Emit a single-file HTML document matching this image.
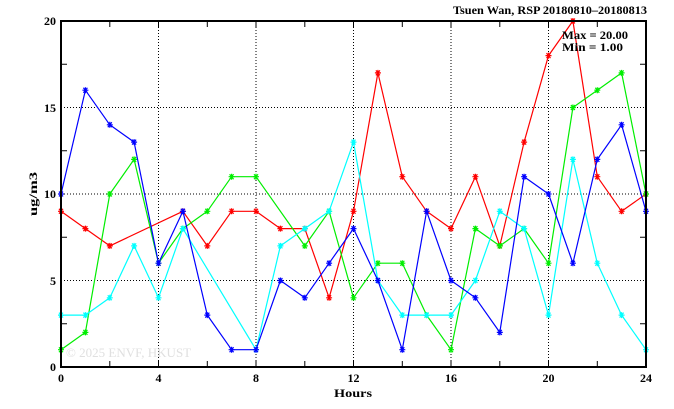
<!DOCTYPE html>
<html><head><meta charset="utf-8"><style>
html,body{margin:0;padding:0;background:#fff;}
svg{display:block;}
text{font-family:"Liberation Serif",serif;font-size:12px;fill:#000;font-weight:bold;}
</style></head><body>
<svg width="674" height="409" viewBox="0 0 674 409" xmlns="http://www.w3.org/2000/svg">
<defs>
<marker id="mr" markerUnits="userSpaceOnUse" markerWidth="10" markerHeight="10" refX="5" refY="5" overflow="visible"><g stroke="#f00" stroke-width="1.2"><path d="M2,5H8M3,2.5L7,7.5M3,7.5L7,2.5M5,2V8"/></g></marker>
<marker id="mb" markerUnits="userSpaceOnUse" markerWidth="10" markerHeight="10" refX="5" refY="5" overflow="visible"><g stroke="#00f" stroke-width="1.2"><path d="M2,5H8M3,2.5L7,7.5M3,7.5L7,2.5M5,2V8"/></g></marker>
<marker id="mg" markerUnits="userSpaceOnUse" markerWidth="10" markerHeight="10" refX="5" refY="5" overflow="visible"><g stroke="#0e0" stroke-width="1.2"><path d="M2,5H8M3,2.5L7,7.5M3,7.5L7,2.5M5,2V8"/></g></marker>
<marker id="mc" markerUnits="userSpaceOnUse" markerWidth="10" markerHeight="10" refX="5" refY="5" overflow="visible"><g stroke="#0ff" stroke-width="1.2"><path d="M2,5H8M3,2.5L7,7.5M3,7.5L7,2.5M5,2V8"/></g></marker>
</defs>
<g stroke="#000" stroke-width="1" stroke-dasharray="1,2">
<path d="M158.5,21V367M256,21V367M353.5,21V367M451,21V367M548.5,21V367"/>
<path d="M61,280.5H646M61,194H646M61,107.5H646"/>
</g>
<text x="66" y="357" style="fill:#e0e0e0;font-weight:normal;font-size:13px">© 2025  ENVF, HKUST</text>
<g stroke="#000" stroke-width="1">
<path d="M61,323.75h6M61,237.25h6M61,150.75h6M61,64.25h6M646,323.75h-6M646,237.25h-6M646,150.75h-6M646,64.25h-6"/>
<path d="M109.8,367v-6M207.3,367v-6M304.8,367v-6M402.3,367v-6M499.8,367v-6M597.3,367v-6M109.8,21v6M207.3,21v6M304.8,21v6M402.3,21v6M499.8,21v6M597.3,21v6"/>
<path d="M158.5,367v-6M256,367v-6M353.5,367v-6M451,367v-6M548.5,367v-6M158.5,21v6M256,21v6M353.5,21v6M451,21v6M548.5,21v6"/>
</g>
<g fill="none" stroke-width="1.2" stroke-linejoin="round">
<polyline stroke="#f00" marker-start="url(#mr)" marker-mid="url(#mr)" marker-end="url(#mr)" points="61,211.3 85.4,228.6 109.8,245.9 182.9,211.3 207.3,245.9 231.6,211.3 256,211.3 280.4,228.6 304.8,228.6 329.1,297.8 353.5,211.3 377.9,72.9 402.3,176.7 426.6,211.3 451,228.6 475.4,176.7 499.8,245.9 524.1,142.1 548.5,55.6 572.9,21 597.3,176.7 621.6,211.3 646,194"/>
<polyline stroke="#0e0" marker-start="url(#mg)" marker-mid="url(#mg)" marker-end="url(#mg)" points="61,349.7 85.4,332.4 109.8,194 134.1,159.4 158.5,263.2 182.9,228.6 207.3,211.3 231.6,176.7 256,176.7 304.8,245.9 329.1,211.3 353.5,297.8 377.9,263.2 402.3,263.2 426.6,315.1 451,349.7 475.4,228.6 499.8,245.9 524.1,228.6 548.5,263.2 572.9,107.5 597.3,90.2 621.6,72.9 646,194"/>
<polyline stroke="#0ff" marker-start="url(#mc)" marker-mid="url(#mc)" marker-end="url(#mc)" points="61,315.1 85.4,315.1 109.8,297.8 134.1,245.9 158.5,297.8 182.9,228.6 256,349.7 280.4,245.9 304.8,228.6 329.1,211.3 353.5,142.1 377.9,280.5 402.3,315.1 426.6,315.1 451,315.1 475.4,280.5 499.8,211.3 524.1,228.6 548.5,315.1 572.9,159.4 597.3,263.2 621.6,315.1 646,349.7"/>
<polyline stroke="#00f" marker-start="url(#mb)" marker-mid="url(#mb)" marker-end="url(#mb)" points="61,194 85.4,90.2 109.8,124.8 134.1,142.1 158.5,263.2 182.9,211.3 207.3,315.1 231.6,349.7 256,349.7 280.4,280.5 304.8,297.8 329.1,263.2 353.5,228.6 377.9,280.5 402.3,349.7 426.6,211.3 451,280.5 475.4,297.8 499.8,332.4 524.1,176.7 548.5,194 572.9,263.2 597.3,159.4 621.6,124.8 646,211.3"/>
</g>
<rect x="61" y="21" width="585" height="346" fill="none" stroke="#000" stroke-width="2"/>
<g text-anchor="end">
<text x="56" y="371">0</text><text x="56" y="285">5</text><text x="56" y="198">10</text><text x="56" y="112">15</text><text x="56" y="25">20</text>
</g>
<g text-anchor="middle">
<text x="61" y="382">0</text><text x="158.5" y="382">4</text><text x="256" y="382">8</text><text x="353.5" y="382">12</text><text x="451" y="382">16</text><text x="548.5" y="382">20</text><text x="646" y="382">24</text>
</g>
<text x="334" y="397" textLength="38" lengthAdjust="spacingAndGlyphs">Hours</text>
<text transform="translate(37,216) rotate(-90)" textLength="44" lengthAdjust="spacingAndGlyphs">ug/m3</text>
<text x="453" y="14" textLength="194" lengthAdjust="spacingAndGlyphs">Tsuen Wan, RSP 20180810–20180813</text>
<text x="562" y="39" textLength="66" lengthAdjust="spacingAndGlyphs">Max = 20.00</text>
<text x="562" y="51" textLength="61" lengthAdjust="spacingAndGlyphs">Min =  1.00</text>
</svg>
</body></html>
